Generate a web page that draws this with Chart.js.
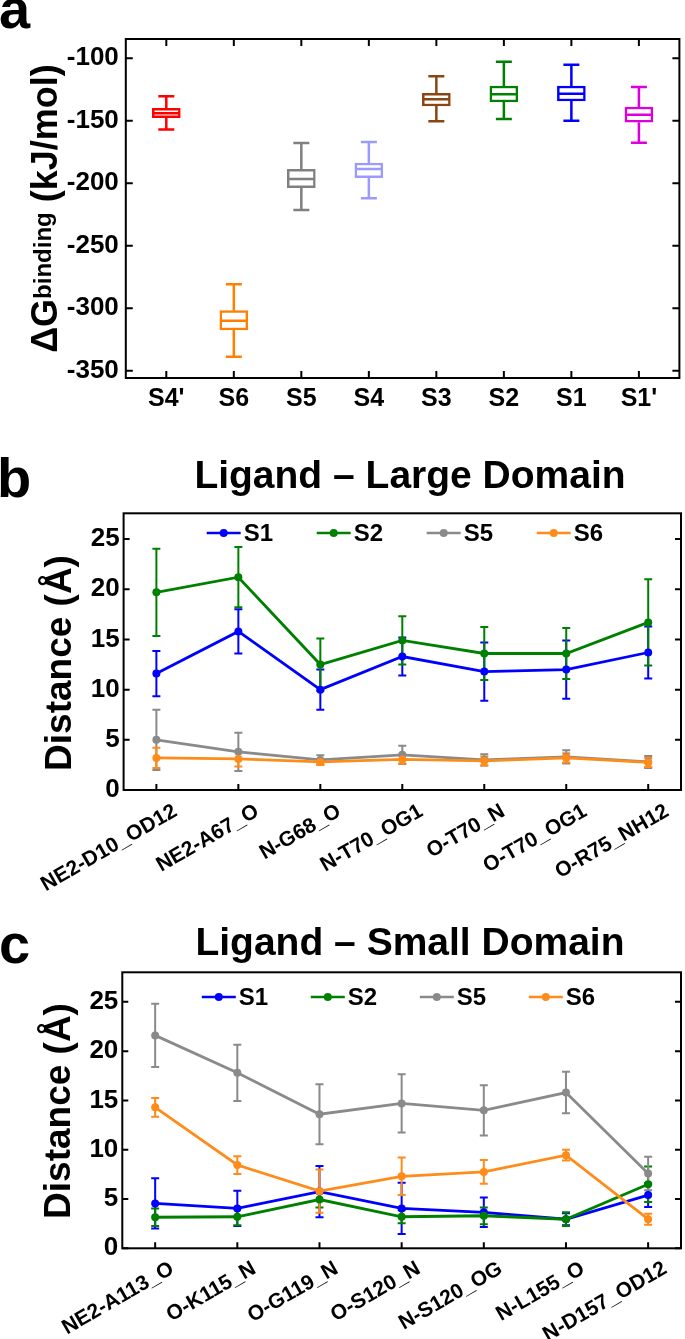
<!DOCTYPE html>
<html>
<head>
<meta charset="utf-8">
<script src="https://cdn.jsdelivr.net/npm/chart.js@4.4.1/dist/chart.umd.min.js"></script>
<style>
  html, body { margin: 0; padding: 0; background: #fff; }
  #page { position: relative; width: 685px; height: 1339px; overflow: hidden; }
  canvas { position: absolute; left: 0; }
  svg { position: absolute; left: 0; top: 0; pointer-events: none; }
  svg text { font-family: 'Liberation Sans', Arial, Helvetica, sans-serif; font-weight: bold; fill: #000; }
</style>
</head>
<body>
<div id="page">
  <canvas id="boxChart" width="685" height="420" style="top:0px"></canvas>
  <canvas id="largeChart" width="685" height="460" style="top:440px"></canvas>
  <canvas id="smallChart" width="685" height="459" style="top:880px"></canvas>
  <svg width="685" height="1339">
    <text x="-1" y="28" font-size="56">a</text>
    <text x="-3" y="497" font-size="56">b</text>
    <text x="-1" y="963" font-size="56">c</text>
    <text x="410" y="488" font-size="39" text-anchor="middle">Ligand – Large Domain</text>
    <text x="410" y="955" font-size="39" text-anchor="middle">Ligand – Small Domain</text>
    <text transform="translate(56.5,208.5) rotate(-90)" text-anchor="middle" font-size="36">ΔG<tspan font-size="24" dy="-6">binding</tspan><tspan dy="6"> (kJ/mol)</tspan></text>
    <text transform="translate(71,663) rotate(-90)" text-anchor="middle" font-size="37">Distance (Å)</text>
    <text transform="translate(69.5,1111) rotate(-90)" text-anchor="middle" font-size="37">Distance (Å)</text>
  </svg>
</div>
<script>
// ---- panel a: binding free energy box plots ----
const boxLabels = ["S4'", "S6", "S5", "S4", "S3", "S2", "S1", "S1'"];
const boxMin = [-157, -338.7, -221.4, -212, -150.4, -148.6, -150, -167.5];
const boxQ1 = [-147.5, -317.4, -203.5, -195.5, -138.2, -135, -134.2, -151.2];
const boxMedian = [-144, -309.9, -196.6, -188.6, -132.8, -128.8, -128.3, -145.1];
const boxQ3 = [-140, -301.9, -188.8, -183.8, -128, -122.2, -122.2, -139];
const boxMax = [-130.4, -280.8, -167.8, -167, -114.4, -102.7, -105.1, -123];
const energyTicks = [-350, -300, -250, -200, -150, -100];
const boxColors = ["#ff0000", "#ff8000", "#808080", "#9a9aff", "#8b4513", "#008000", "#0000ff", "#dd00dd"];

// ---- panel b: ligand - large domain distances ----
const largeLabels = ["NE2-D10_OD12", "NE2-A67_O", "N-G68_O", "N-T70_OG1", "O-T70_N", "O-T70_OG1", "O-R75_NH12"];
const largeS1 = [11.6, 15.8, 10.0, 13.3, 11.8, 12.0, 13.7];
const largeS1Err = [2.25, 2.2, 2.0, 1.9, 2.9, 2.9, 2.6];
const largeS2 = [19.7, 21.2, 12.5, 14.9, 13.6, 13.6, 16.7];
const largeS2Err = [4.35, 3.0, 2.6, 2.4, 2.65, 2.55, 4.3];
const largeS5 = [5.0, 3.8, 3.0, 3.5, 3.0, 3.3, 2.8];
const largeS5Err = [3.0, 1.9, 0.45, 0.9, 0.55, 0.65, 0.6];
const largeS6 = [3.2, 3.1, 2.8, 3.05, 2.9, 3.2, 2.75];
const largeS6Err = [1.0, 0.75, 0.3, 0.4, 0.45, 0.45, 0.45];

// ---- panel c: ligand - small domain distances ----
const smallLabels = ["NE2-A113_O", "O-K115_N", "O-G119_N", "O-S120_N", "N-S120_OG", "N-L155_O", "N-D157_OD12"];
const smallS1 = [4.55, 4.05, 5.75, 4.05, 3.65, 2.95, 5.4];
const smallS1Err = [2.55, 1.8, 2.6, 2.6, 1.5, 0.6, 1.2];
const smallS2 = [3.15, 3.2, 4.95, 3.2, 3.3, 2.95, 6.5];
const smallS2Err = [0.9, 0.85, 0.8, 0.65, 0.85, 0.7, 1.8];
const smallS5 = [21.6, 17.8, 13.6, 14.7, 14.0, 15.8, 7.6];
const smallS5Err = [3.2, 2.85, 3.05, 2.95, 2.55, 2.1, 1.7];
const smallS6 = [14.3, 8.45, 5.8, 7.3, 7.75, 9.45, 2.95];
const smallS6Err = [0.95, 0.9, 2.2, 1.9, 1.2, 0.55, 0.55];

const distanceTicks = [0, 5, 10, 15, 20, 25];
const seriesNames = ["S1", "S2", "S5", "S6"];
const seriesColors = ["#0000ff", "#008000", "#8a8a8a", "#ff8c1a"];

const FONT = "'Liberation Sans', Arial, Helvetica, sans-serif";
Chart.defaults.font.family = FONT;
Chart.defaults.font.weight = "bold";
Chart.defaults.color = "#000";
Chart.defaults.animation = false;

// black box round the plot, with ticks pointing inwards
const framePlugin = (tickLen, topTicks) => ({
  id: "frame",
  afterDraw(chart) {
    const { ctx, chartArea: a, scales: { x, y } } = chart;
    ctx.save();
    ctx.strokeStyle = "#000";
    ctx.lineWidth = 2;
    ctx.strokeRect(a.left, a.top, a.right - a.left, a.bottom - a.top);
    ctx.beginPath();
    y.ticks.forEach((t) => {
      const py = y.getPixelForValue(t.value);
      ctx.moveTo(a.left, py); ctx.lineTo(a.left + tickLen, py);
      ctx.moveTo(a.right, py); ctx.lineTo(a.right - tickLen, py);
    });
    x.ticks.forEach((t) => {
      const px = x.getPixelForValue(t.value);
      ctx.moveTo(px, a.bottom); ctx.lineTo(px, a.bottom - tickLen);
      if (topTicks) { ctx.moveTo(px, a.top); ctx.lineTo(px, a.top + tickLen); }
    });
    ctx.stroke();
    ctx.restore();
  },
});

// fix the axis sizes so the plot area lands where it should
const fixWidth = (w) => (scale) => { scale.width = w; scale.paddingTop = 0; scale.paddingBottom = 0; };
const fixHeight = (h) => (scale) => { scale.height = h; scale.paddingLeft = 0; scale.paddingRight = 0; };
const setTicks = (values) => (scale) => { scale.ticks = values.map((v) => ({ value: v })); };

// whiskers and medians for the box plots
const boxWhiskers = {
  id: "boxWhiskers",
  afterDatasetsDraw(chart) {
    const { ctx, scales: { x, y } } = chart;
    ctx.save();
    ctx.lineWidth = 2.5;
    boxLabels.forEach((_, i) => {
      const px = x.getPixelForValue(i);
      const yMax = y.getPixelForValue(boxMax[i]);
      const yMin = y.getPixelForValue(boxMin[i]);
      const yMed = y.getPixelForValue(boxMedian[i]);
      ctx.strokeStyle = boxColors[i];
      ctx.beginPath();
      ctx.moveTo(px, y.getPixelForValue(boxQ3[i])); ctx.lineTo(px, yMax);
      ctx.moveTo(px, y.getPixelForValue(boxQ1[i])); ctx.lineTo(px, yMin);
      ctx.moveTo(px - 8, yMax); ctx.lineTo(px + 8, yMax);
      ctx.moveTo(px - 8, yMin); ctx.lineTo(px + 8, yMin);
      ctx.moveTo(px - 13, yMed); ctx.lineTo(px + 13, yMed);
      ctx.stroke();
    });
    ctx.restore();
  },
};

new Chart(document.getElementById("boxChart"), {
  type: "bar",
  data: {
    datasets: [{
      data: boxLabels.map((_, i) => ({ x: i, y: [boxQ1[i], boxQ3[i]] })),
      backgroundColor: "#fff",
      borderColor: boxColors,
      borderWidth: 2.5,
      borderSkipped: false,
      barThickness: 28,
    }],
  },
  options: {
    responsive: false,
    layout: { padding: { top: 39, right: 5.6, left: 0, bottom: 0 } },
    plugins: { legend: { display: false }, tooltip: { enabled: false } },
    scales: {
      x: {
        type: "linear", min: -0.6, max: 7.6, offset: false,
        grid: { display: false, drawTicks: false }, border: { display: false },
        afterBuildTicks: setTicks(boxLabels.map((_, i) => i)),
        afterFit: fixHeight(42),
        ticks: { autoSkip: false, maxRotation: 0, padding: 6, font: { size: 25 },
                 callback: (v, i) => boxLabels[i] },
      },
      y: {
        min: -355.8, max: -84.6,
        grid: { display: false, drawTicks: false }, border: { display: false },
        afterBuildTicks: setTicks(energyTicks),
        afterFit: fixWidth(125.8),
        ticks: { padding: 7, font: { size: 26 } },
      },
    },
  },
  plugins: [boxWhiskers, framePlugin(7, true)],
});

// vertical error bars from each dataset's errors list
const errorBars = {
  id: "errorBars",
  beforeDatasetsDraw(chart) {
    const { ctx, scales: { x, y } } = chart;
    ctx.save();
    ctx.lineWidth = 2;
    chart.data.datasets.forEach((ds) => {
      ctx.strokeStyle = ds.borderColor;
      ds.data.forEach((p, i) => {
        const e = ds.errors[i];
        const px = x.getPixelForValue(p.x);
        const top = y.getPixelForValue(p.y + e);
        const bot = y.getPixelForValue(p.y - e);
        ctx.beginPath();
        ctx.moveTo(px, top); ctx.lineTo(px, bot);
        ctx.moveTo(px - 4, top); ctx.lineTo(px + 4, top);
        ctx.moveTo(px - 4, bot); ctx.lineTo(px + 4, bot);
        ctx.stroke();
      });
    });
    ctx.restore();
  },
};

// legend drawn inside the plot box, in one row
const insideLegend = (x0, y0, gap, len) => ({
  id: "insideLegend",
  afterDraw(chart) {
    const ctx = chart.ctx;
    ctx.save();
    ctx.font = "bold 24px " + FONT;
    ctx.textBaseline = "middle";
    chart.data.datasets.forEach((ds, i) => {
      const lx = x0 + i * gap;
      ctx.strokeStyle = ds.borderColor;
      ctx.lineWidth = 2.5;
      ctx.beginPath(); ctx.moveTo(lx, y0); ctx.lineTo(lx + len, y0); ctx.stroke();
      ctx.fillStyle = ds.borderColor;
      ctx.beginPath(); ctx.arc(lx + len / 2, y0, 4, 0, 2 * Math.PI); ctx.fill();
      ctx.fillStyle = "#000";
      ctx.fillText(ds.label, lx + len + 3, y0 + 1);
    });
    ctx.restore();
  },
});

function distanceChart(id, labels, values, errors, cfg) {
  return new Chart(document.getElementById(id), {
    type: "line",
    data: {
      datasets: values.map((vals, s) => ({
        label: seriesNames[s],
        data: vals.map((v, i) => ({ x: i, y: v })),
        errors: errors[s],
        borderColor: seriesColors[s],
        backgroundColor: seriesColors[s],
        borderWidth: 2.8,
        pointRadius: 4,
        pointBorderWidth: 0,
        tension: 0,
        order: values.length - s,
      })),
    },
    options: {
      responsive: false,
      layout: { padding: { top: cfg.top, right: 1.5, left: 0, bottom: 0 } },
      plugins: { legend: { display: false }, tooltip: { enabled: false } },
      scales: {
        x: {
          type: "linear", min: -0.4, max: 6.4, offset: false,
          grid: { display: false, drawTicks: false }, border: { display: false },
          afterBuildTicks: setTicks(labels.map((_, i) => i)),
          afterFit: fixHeight(cfg.xHeight),
          ticks: { autoSkip: false, minRotation: 30, maxRotation: 30, padding: cfg.labelPad,
                   labelOffset: cfg.labelOffset, font: { size: 21 },
                   callback: (v, i) => labels[i] },
        },
        y: {
          min: 0, max: cfg.yMax,
          grid: { display: false, drawTicks: false }, border: { display: false },
          afterBuildTicks: setTicks(distanceTicks),
          afterFit: fixWidth(cfg.left),
          ticks: { padding: 4, font: { size: 26 } },
        },
      },
    },
    plugins: [errorBars, framePlugin(6, false), insideLegend(cfg.legendX, cfg.legendY, cfg.legendGap, 34)],
  });
}

distanceChart("largeChart", largeLabels,
  [largeS1, largeS2, largeS5, largeS6],
  [largeS1Err, largeS2Err, largeS5Err, largeS6Err],
  { top: 73.3, xHeight: 110, left: 123.6, yMax: 27.57, labelPad: 9, labelOffset: 19,
    legendX: 206.7, legendY: 93, legendGap: 110 });

distanceChart("smallChart", smallLabels,
  [smallS1, smallS2, smallS5, smallS6],
  [smallS1Err, smallS2Err, smallS5Err, smallS6Err],
  { top: 92.3, xHeight: 90.7, left: 122.3, yMax: 28.0, labelPad: 8, labelOffset: 17,
    legendX: 201.8, legendY: 117, legendGap: 109 });
</script>
</body>
</html>
